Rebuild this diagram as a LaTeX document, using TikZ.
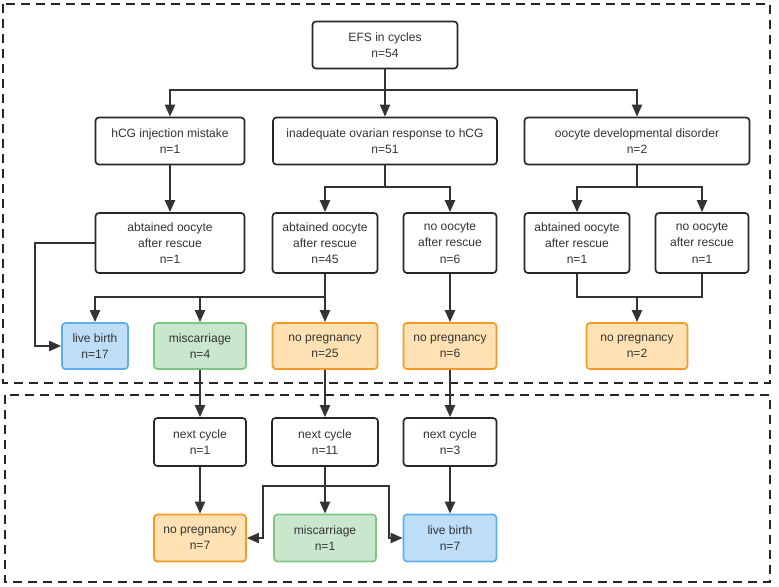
\documentclass[tikz,border=0pt]{standalone}
\usepackage{fontspec}
\setmainfont{Liberation Sans}
\usetikzlibrary{arrows.meta}

\definecolor{edge}{HTML}{333333}
\definecolor{birthfill}{HTML}{BEDEF8}
\definecolor{birthdraw}{HTML}{5CAEF0}
\definecolor{lossfill}{HTML}{C9E7CC}
\definecolor{lossdraw}{HTML}{7FC584}
\definecolor{nopregfill}{HTML}{FFE1B4}
\definecolor{nopregdraw}{HTML}{F59A22}

\begin{document}
\begin{tikzpicture}[
 x=0.3mm, y=-0.3mm,
 line width=1.4pt,
 >={Triangle[length=3.6mm,width=3mm]},
 align=center,
 inner sep=0pt,
 font=\fontsize{10.3}{13.9}\selectfont\color{black!80},
 box/.style={draw=black!85,rectangle,rounded corners=1mm,fill=white},
 birth/.style={box,draw=birthdraw,fill=birthfill},
 loss/.style={box,draw=lossdraw,fill=lossfill},
 nopreg/.style={box,draw=nopregdraw,fill=nopregfill},
 link/.style={draw=edge,line width=1.7pt},
 frame/.style={draw=black!85,line width=1.7pt,dash pattern=on 2.7mm off 1.8mm}
]
\useasboundingbox (0,0) rectangle (779,586);
\draw [frame] (3,4) rectangle (770,383);
\draw [frame] (5,395) rectangle (770,582);
% first stage
\node (efs) [box,minimum width=43.5mm,minimum height=14.1mm] at (385,45) {EFS in cycles\\n=54};
\node (hcg) [box,minimum width=44.7mm,minimum height=14.1mm] at (170,141) {hCG injection mistake\\n=1};
\node (inadequate) [box,minimum width=67.2mm,minimum height=14.1mm] at (385,141) {inadequate ovarian response to hCG\\n=51};
\node (dev) [box,minimum width=67.5mm,minimum height=14.1mm] at (637,141) {oocyte developmental disorder\\n=2};
\node (rescue-a) [box,minimum width=44.7mm,minimum height=18mm] at (170,243) {abtained oocyte\\after rescue\\n=1};
\node (rescue-b) [box,minimum width=31.5mm,minimum height=18mm] at (325,243) {abtained oocyte\\after rescue\\n=45};
\node (nooocyte-b) [box,minimum width=27.9mm,minimum height=18mm] at (450,243) {no oocyte\\after rescue\\n=6};
\node (rescue-c) [box,minimum width=31.5mm,minimum height=18mm] at (577,243) {abtained oocyte\\after rescue\\n=1};
\node (nooocyte-c) [box,minimum width=27.9mm,minimum height=18mm] at (702,243) {no oocyte\\after rescue\\n=1};
\node (birth-a) [birth,minimum width=19.8mm,minimum height=13.8mm] at (95,346) {live birth\\n=17};
\node (loss-a) [loss,minimum width=27.6mm,minimum height=13.8mm] at (200,346) {miscarriage\\n=4};
\node (nopreg-a) [nopreg,minimum width=31.5mm,minimum height=13.8mm] at (325,346) {no pregnancy\\n=25};
\node (nopreg-b) [nopreg,minimum width=27.9mm,minimum height=13.8mm] at (450,346) {no pregnancy\\n=6};
\node (nopreg-c) [nopreg,minimum width=30.3mm,minimum height=13.8mm] at (637,346) {no pregnancy\\n=2};
% second stage
\node (next-a) [box,minimum width=27.6mm,minimum height=14.4mm] at (200,442) {next cycle\\n=1};
\node (next-b) [box,minimum width=31.8mm,minimum height=14.4mm] at (325,442) {next cycle\\n=11};
\node (next-c) [box,minimum width=27.9mm,minimum height=14.4mm] at (450,442) {next cycle\\n=3};
\node (nopreg-d) [nopreg,minimum width=27.6mm,minimum height=14.1mm] at (200,538) {no pregnancy\\n=7};
\node (loss-b) [loss,minimum width=30.6mm,minimum height=14.1mm] at (325,538) {miscarriage\\n=1};
\node (birth-b) [birth,minimum width=27.9mm,minimum height=14.1mm] at (450,538) {live birth\\n=7};
\coordinate (split-efs) at (385,90);
\coordinate (split-inad) at (385,187);
\coordinate (split-dev) at (637,187);
\coordinate (split-res) at (325,297);
\coordinate (join-dev) at (637,297);
\coordinate (split-next) at (325,486);
\draw [link,->] (efs) -- (inadequate);
\draw [link,->] (split-efs) -| (hcg);
\draw [link,->] (split-efs) -| (dev);
\draw [link,->] (hcg) -- (rescue-a);
\draw [link] (inadequate) -- (split-inad);
\draw [link,->] (split-inad) -| (rescue-b);
\draw [link,->] (split-inad) -| (nooocyte-b);
\draw [link] (dev) -- (split-dev);
\draw [link,->] (split-dev) -| (rescue-c);
\draw [link,->] (split-dev) -| (nooocyte-c);
\draw [link,->] (rescue-a.west) -- ++(-60,0) |- (birth-a.west);
\draw [link] (rescue-b) -- (split-res);
\draw [link,->] (split-res) -| (birth-a);
\draw [link,->] (split-res) -| (loss-a);
\draw [link,->] (split-res) -- (nopreg-a);
\draw [link,->] (nooocyte-b) -- (nopreg-b);
\draw [link] (rescue-c.south) |- (join-dev);
\draw [link] (nooocyte-c.south) |- (join-dev);
\draw [link,->] (join-dev) -- (nopreg-c);
\draw [link,->] (loss-a) -- (next-a);
\draw [link,->] (nopreg-a) -- (next-b);
\draw [link,->] (nopreg-b) -- (next-c);
\draw [link,->] (next-a) -- (nopreg-d);
\draw [link,->] (next-b) -- (loss-b);
\draw [link,->] (split-next) -- ++(-62,0) |- (nopreg-d.east);
\draw [link,->] (split-next) -- ++(64,0) |- (birth-b.west);
\draw [link,->] (next-c) -- (birth-b);
\end{tikzpicture}
\end{document}
